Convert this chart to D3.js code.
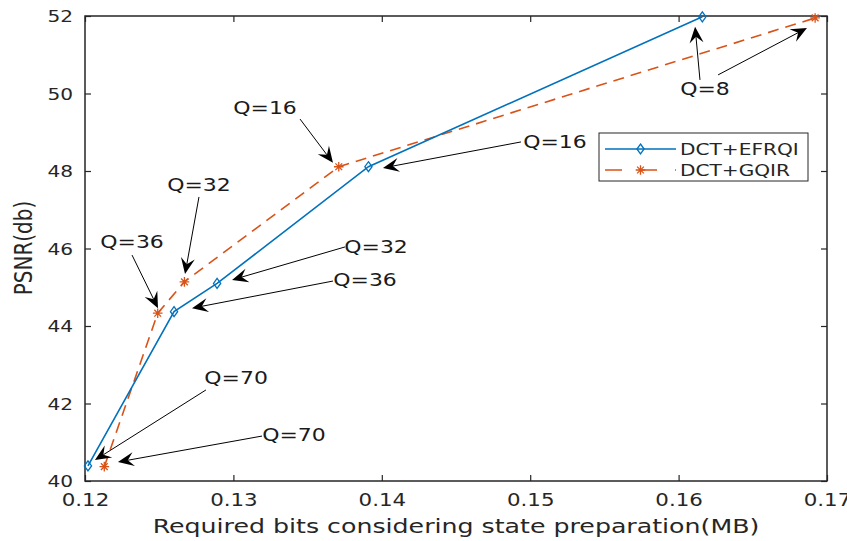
<!DOCTYPE html>
<html>
<head>
<meta charset="utf-8">
<script src="https://cdn.jsdelivr.net/npm/d3@7"></script>
<style>
  html, body { margin: 0; padding: 0; background: #fff; }
  svg { display: block; font-family: "DejaVu Sans", sans-serif; }
</style>
</head>
<body>
<svg id="chart" width="847" height="541"></svg>
<script>
// ---------------- data ----------------
const xDomain = [0.12, 0.17];
const yDomain = [40, 52];
const xTicks = [0.12, 0.13, 0.14, 0.15, 0.16, 0.17];
const yTicks = [40, 42, 44, 46, 48, 50, 52];
const qLevels = [70, 36, 32, 16, 8];
const efrqiBits = [0.1202, 0.1260, 0.1289, 0.1391, 0.1616];
const efrqiPsnr = [40.39, 44.37, 45.10, 48.11, 51.98];
const gqirBits  = [0.1213, 0.1249, 0.1267, 0.1371, 0.1692];
const gqirPsnr  = [40.37, 44.33, 45.14, 48.11, 51.95];
const seriesNames = ["DCT+EFRQI", "DCT+GQIR"];
const xLabel = "Required bits considering state preparation(MB)";
const yLabel = "PSNR(db)";

// annotation labels (data coordinates of label centres)
const annoLabels = ["Q=16", "Q=32", "Q=36", "Q=32", "Q=36", "Q=16", "Q=8", "Q=70", "Q=70"];
const annoTextX  = [0.13213, 0.12768, 0.12317, 0.13961, 0.13887, 0.15167, 0.16178, 0.13018, 0.13408];
const annoTextY  = [49.63, 47.64, 46.17, 46.04, 45.19, 48.77, 50.14, 42.66, 41.19];
// annotation arrows (tail -> tip, data coordinates)
const arrowFromX = [0.13449, 0.12768, 0.12317, 0.13752, 0.13671, 0.14938, 0.16144, 0.16266, 0.12815, 0.13193];
const arrowFromY = [49.34, 47.33, 45.83, 46.04, 45.16, 48.75, 50.35, 50.48, 42.35, 41.16];
const arrowToX   = [0.13671, 0.12674, 0.12492, 0.12991, 0.12721, 0.14008, 0.16111, 0.16865, 0.12067, 0.12222];
const arrowToY   = [48.21, 45.34, 44.46, 45.19, 44.46, 48.08, 51.72, 51.69, 40.54, 40.49];

// ---------------- layout ----------------
const plot = { left: 85, right: 827, top: 16, bottom: 481 };
const SX = 1.22;          // horizontal glyph stretch of the source image
const axisColor = "#262626";
const blue = "#0072BD", orange = "#D95319";

const svg = d3.select("#chart");
const x = d3.scaleLinear().domain(xDomain).range([plot.left, plot.right]);
const y = d3.scaleLinear().domain(yDomain).range([plot.bottom, plot.top]);

// axes (inward ticks on all four sides)
const gB = svg.append("g").attr("transform", `translate(0,${plot.bottom})`)
  .call(d3.axisBottom(x).tickValues(xTicks).tickSize(-6).tickFormat(d3.format(".2f")));
const gT = svg.append("g").attr("transform", `translate(0,${plot.top})`)
  .call(d3.axisTop(x).tickValues(xTicks).tickSize(-6).tickFormat(""));
const gL = svg.append("g").attr("transform", `translate(${plot.left},0)`)
  .call(d3.axisLeft(y).tickValues(yTicks).tickSize(-6).tickFormat(d3.format("d")));
const gR = svg.append("g").attr("transform", `translate(${plot.right},0)`)
  .call(d3.axisRight(y).tickValues(yTicks).tickSize(-6).tickFormat(""));
[gB, gT, gL, gR].forEach(g => {
  g.select(".domain").remove();
  g.selectAll(".tick line").attr("stroke", axisColor).attr("stroke-width", 1.2);
  g.attr("font-family", null).attr("font-size", null);
});
gB.selectAll(".tick text")
  .attr("fill", axisColor).attr("font-size", 17.5)
  .attr("y", 25.5).attr("dy", null)
  .attr("transform", `scale(${SX},1)`);
gL.selectAll(".tick text")
  .attr("fill", axisColor).attr("font-size", 16.5)
  .attr("x", -12 / SX).attr("dy", "0.36em")
  .attr("transform", `scale(${SX},1)`);

// box
svg.append("rect")
  .attr("x", plot.left).attr("y", plot.top)
  .attr("width", plot.right - plot.left).attr("height", plot.bottom - plot.top)
  .attr("fill", "none").attr("stroke", axisColor).attr("stroke-width", 1.5);

// axis labels
svg.append("text")
  .attr("transform", `translate(456,533) scale(${SX * 1.035},1)`)
  .attr("text-anchor", "middle").attr("font-size", 20).attr("fill", axisColor)
  .text(xLabel);
svg.append("text")
  .attr("transform", `translate(32,248) rotate(-90) scale(1,${SX})`)
  .attr("text-anchor", "middle").attr("font-size", 20).attr("fill", axisColor)
  .text(yLabel);

// series
const efrqi = efrqiBits.map((b, i) => ({ x: b, y: efrqiPsnr[i], q: qLevels[i] }));
const gqir  = gqirBits.map((b, i) => ({ x: b, y: gqirPsnr[i], q: qLevels[i] }));
const line = d3.line().x(d => x(d.x)).y(d => y(d.y));

function diamond(g, cx, cy, color) {
  g.append("path")
    .attr("d", `M${cx},${cy - 5}L${cx + 3.6},${cy}L${cx},${cy + 5}L${cx - 3.6},${cy}Z`)
    .attr("fill", "none").attr("stroke", color).attr("stroke-width", 1.3);
}
function star(g, cx, cy, color) {
  const r = 4.8, p = [];
  for (let k = 0; k < 4; k++) {
    const a = k * Math.PI / 4;
    p.push(`M${cx - r * Math.cos(a)},${cy - r * Math.sin(a)}L${cx + r * Math.cos(a)},${cy + r * Math.sin(a)}`);
  }
  g.append("path").attr("d", p.join("")).attr("stroke", color).attr("stroke-width", 1.3).attr("fill", "none");
}

const gLines = svg.append("g");
gLines.append("path").datum(gqir).attr("d", line)
  .attr("fill", "none").attr("stroke", orange).attr("stroke-width", 1.6)
  .attr("stroke-dasharray", "11,7");
gLines.append("path").datum(efrqi).attr("d", line)
  .attr("fill", "none").attr("stroke", blue).attr("stroke-width", 1.6);
efrqi.forEach(d => diamond(gLines, x(d.x), y(d.y), blue));
gqir.forEach(d => star(gLines, x(d.x), y(d.y), orange));

// annotations
const gA = svg.append("g");
arrowFromX.forEach((fx, i) => {
  const x0 = x(fx), y0 = y(arrowFromY[i]), x1 = x(arrowToX[i]), y1 = y(arrowToY[i]);
  const dx = x1 - x0, dy = y1 - y0, len = Math.hypot(dx, dy);
  const ux = dx / len, uy = dy / len, nx = -uy, ny = ux;
  const L = 16, W = 7, N = 10;
  const bx = x1 - ux * L, by = y1 - uy * L;
  const kx = x1 - ux * N, ky = y1 - uy * N;
  gA.append("line").attr("x1", x0).attr("y1", y0).attr("x2", kx).attr("y2", ky)
    .attr("stroke", "#000").attr("stroke-width", 1);
  gA.append("path")
    .attr("d", `M${x1},${y1}L${bx + nx * W},${by + ny * W}L${kx},${ky}L${bx - nx * W},${by - ny * W}Z`)
    .attr("fill", "#000");
});
annoLabels.forEach((t, i) => {
  gA.append("text")
    .attr("transform", `translate(${x(annoTextX[i])},${y(annoTextY[i])}) scale(${SX},1)`)
    .attr("text-anchor", "middle").attr("dy", "0.36em")
    .attr("font-size", 18).attr("fill", "#1a1a1a").text(t);
});

// legend
const lg = svg.append("g");
lg.append("rect").attr("x", 599).attr("y", 133).attr("width", 209).attr("height", 48)
  .attr("fill", "#fff").attr("stroke", axisColor).attr("stroke-width", 1);
const rows = [
  { name: seriesNames[0], color: blue, dash: null, mk: diamond, cy: 149 },
  { name: seriesNames[1], color: orange, dash: "11,7", mk: star, cy: 170 }
];
rows.forEach(r => {
  lg.append("line").attr("x1", 605).attr("x2", 676).attr("y1", r.cy).attr("y2", r.cy)
    .attr("stroke", r.color).attr("stroke-width", 1.5)
    .attr("stroke-dasharray", r.dash ? "17,18" : null);
  r.mk(lg, 640.5, r.cy, r.color);
  lg.append("text")
    .attr("transform", `translate(680,${r.cy}) scale(${SX},1)`)
    .attr("dy", "0.36em").attr("font-size", 16.5).attr("fill", axisColor).text(r.name);
});
</script>
</body>
</html>
